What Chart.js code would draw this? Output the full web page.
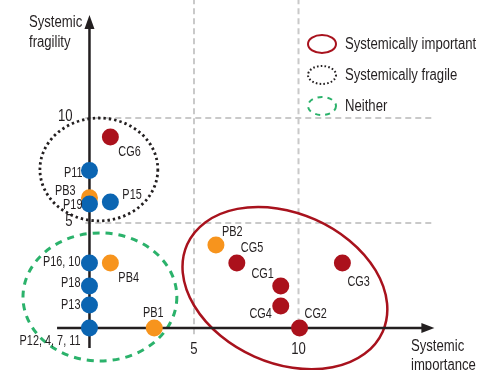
<!DOCTYPE html>
<html lang="en">
<head>
<meta charset="UTF-8">
<title>Systemic importance vs fragility</title>
<script src="https://cdn.jsdelivr.net/npm/chart.js"></script>
<style>
    body { margin: 0; background: #fff; }
    canvas { display: block; }
</style>
</head>
<body>
<canvas id="chart" width="481" height="370"></canvas>
<script>
    // blue points
    const pNames = ['P11', 'P19', 'P15', 'P16, 10', 'P18', 'P13', 'P12, 4, 7, 11'];
    const pImportance = [0, 0, 1.0, 0, 0, 0, 0];
    const pFragility = [7.5, 5.9, 6.0, 3.1, 2.0, 1.1, 0];

    // orange points
    const pbNames = ['PB3', 'PB4', 'PB1', 'PB2'];
    const pbImportance = [0, 1.0, 3.1, 6.05];
    const pbFragility = [6.2, 3.1, 0, 3.95];

    // red points
    const cgNames = ['CG6', 'CG5', 'CG1', 'CG4', 'CG2', 'CG3'];
    const cgImportance = [1.0, 7.05, 9.15, 9.15, 10.05, 12.1];
    const cgFragility = [9.1, 3.1, 2.0, 1.05, 0, 3.1];

    const gridX = [5, 10];
    const gridY = [5, 10];
    const xTickLabels = ['5', '10'];
    const yTickLabels = ['5', '10'];

    const legendLabels = ['Systemically important', 'Systemically fragile', 'Neither'];

    // cx, cy, rx, ry in data units, angle in degrees
    const groupEllipses = [
        { cx: 9.35, cy: 1.9, rx: 5.12, ry: 3.57, angle: 24 },
        { cx: 0.45, cy: 7.55, rx: 2.82, ry: 2.45, angle: 0 },
        { cx: 0.5, cy: 1.48, rx: 3.68, ry: 3.05, angle: 0 }
    ];

    const FONT = "'Liberation Sans', Arial, sans-serif";
    const INK = '#231f20';
    const styles = [
        { color: '#a8121d', width: 2.5, dash: [] },
        { color: '#231f20', width: 2.8, dash: [2.4, 3] },
        { color: '#2bb26b', width: 3, dash: [7, 6] }
    ];

    // label placement, px from the point
    const labelPos = {
        'P11': [-7, 2, 'right'], 'P19': [-7, 1, 'right'], 'P15': [12, -7, 'left'],
        'P16, 10': [-9, -1, 'right'], 'P18': [-9, -3, 'right'], 'P13': [-9, 0, 'right'],
        'P12, 4, 7, 11': [-9, 13, 'right'],
        'PB3': [-14, -7, 'right'], 'PB4': [8, 15, 'left'], 'PB1': [-1, -15, 'center'],
        'PB2': [6, -13, 'left'],
        'CG6': [8, 15, 'left'], 'CG5': [4, -15, 'left'], 'CG1': [-7, -12, 'right'],
        'CG4': [-9, 8, 'right'], 'CG2': [5, -14, 'left'], 'CG3': [5, 19, 'left']
    };

    function toPoints(xs, ys) {
        return xs.map((x, i) => ({ x: x, y: ys[i] }));
    }

    function ellipsePath(ctx, x, y, rx, ry, rot) {
        ctx.beginPath();
        ctx.ellipse(x, y, rx, ry, rot, 0, Math.PI * 2);
    }

    // condensed text: squeeze a regular face horizontally
    function text(ctx, str, x, y, align, size, squeeze) {
        ctx.save();
        ctx.font = size + 'px ' + FONT;
        ctx.textAlign = align;
        ctx.textBaseline = 'middle';
        ctx.translate(x, y);
        ctx.scale(squeeze || 0.82, 1);
        ctx.fillText(str, 0, 0);
        ctx.restore();
    }

    const decor = {
        id: 'decor',
        beforeDatasetsDraw(chart) {
            const ctx = chart.ctx;
            const xs = chart.scales.x, ys = chart.scales.y;
            ctx.save();

            // dashed grid
            ctx.strokeStyle = '#c9c9c9';
            ctx.lineWidth = 2;
            ctx.setLineDash([6, 4]);
            gridX.forEach(v => {
                ctx.beginPath();
                ctx.moveTo(xs.getPixelForValue(v), ys.getPixelForValue(15.7));
                ctx.lineTo(xs.getPixelForValue(v), ys.getPixelForValue(-0.4));
                ctx.stroke();
            });
            gridY.forEach(v => {
                ctx.beginPath();
                ctx.moveTo(xs.getPixelForValue(-0.2), ys.getPixelForValue(v));
                ctx.lineTo(xs.getPixelForValue(16.4), ys.getPixelForValue(v));
                ctx.stroke();
            });

            // group ellipses
            groupEllipses.forEach((e, i) => {
                const cx = xs.getPixelForValue(e.cx), cy = ys.getPixelForValue(e.cy);
                const rx = Math.abs(xs.getPixelForValue(e.cx + e.rx) - cx);
                const ry = Math.abs(ys.getPixelForValue(e.cy + e.ry) - cy);
                ctx.strokeStyle = styles[i].color;
                ctx.lineWidth = styles[i].width;
                ctx.setLineDash(styles[i].dash);
                ellipsePath(ctx, cx, cy, rx, ry, e.angle * Math.PI / 180);
                ctx.stroke();
            });

            // axes with arrows
            ctx.setLineDash([]);
            ctx.strokeStyle = INK;
            ctx.fillStyle = INK;
            ctx.lineWidth = 2.5;
            const x0 = xs.getPixelForValue(0), y0 = ys.getPixelForValue(0);
            const xEnd = xs.getPixelForValue(16.5), yEnd = ys.getPixelForValue(14.9);
            ctx.beginPath();
            ctx.moveTo(xs.getPixelForValue(-1.55), y0);
            ctx.lineTo(xEnd - 8, y0);
            ctx.moveTo(x0, ys.getPixelForValue(-0.95));
            ctx.lineTo(x0, yEnd + 8);
            ctx.stroke();
            ctx.beginPath();
            ctx.moveTo(xEnd, y0);
            ctx.lineTo(xEnd - 13, y0 - 5);
            ctx.lineTo(xEnd - 13, y0 + 5);
            ctx.closePath();
            ctx.moveTo(x0, yEnd);
            ctx.lineTo(x0 - 5, yEnd + 14);
            ctx.lineTo(x0 + 5, yEnd + 14);
            ctx.closePath();
            ctx.fill();

            // tick labels
            gridX.forEach((v, i) => {
                text(ctx, xTickLabels[i], xs.getPixelForValue(v), y0 + 22, 'center', 16);
            });
            gridY.forEach((v, i) => {
                text(ctx, yTickLabels[i], x0 - 17, ys.getPixelForValue(v) - 1, 'right', 16);
            });

            // axis titles
            text(ctx, 'Systemic', 29, 23, 'left', 16);
            text(ctx, 'fragility', 29, 43, 'left', 16);
            text(ctx, 'Systemic', 411, 347, 'left', 16);
            text(ctx, 'importance', 411, 366, 'left', 16);

            // legend
            legendLabels.forEach((t, i) => {
                const ly = 44 + i * 31;
                ctx.strokeStyle = styles[i].color;
                ctx.lineWidth = 2;
                ctx.setLineDash(i === 1 ? [1.6, 2.2] : (i === 2 ? [5, 5] : []));
                ellipsePath(ctx, 322, ly, 14, 9, 0);
                ctx.stroke();
                text(ctx, t, 345, ly + 1, 'left', 16);
            });
            ctx.restore();
        },
        afterDatasetsDraw(chart) {
            const ctx = chart.ctx;
            ctx.save();
            ctx.fillStyle = INK;
            chart.data.datasets.forEach((ds, di) => {
                chart.getDatasetMeta(di).data.forEach((pt, j) => {
                    const name = ds.names[j];
                    const p = labelPos[name] || [8, 0, 'left'];
                    text(ctx, name, pt.x + p[0], pt.y + p[1], p[2], 14.5, 0.75);
                });
            });
            ctx.restore();
        }
    };

    new Chart(document.getElementById('chart').getContext('2d'), {
        type: 'scatter',
        data: {
            datasets: [
                { names: pNames, data: toPoints(pImportance, pFragility), backgroundColor: '#0b65b2', order: 0 },
                { names: pbNames, data: toPoints(pbImportance, pbFragility), backgroundColor: '#f7941d', order: 1 },
                { names: cgNames, data: toPoints(cgImportance, cgFragility), backgroundColor: '#ab111c', order: 2 }
            ]
        },
        options: {
            responsive: false,
            animation: false,
            events: [],
            layout: { padding: 0, autoPadding: false },
            elements: { point: { radius: 8.5, borderWidth: 0, hoverRadius: 8.5 } },
            clip: false,
            plugins: { legend: { display: false }, tooltip: { enabled: false } },
            scales: {
                x: { type: 'linear', min: -4.28, max: 18.73, display: false },
                y: { type: 'linear', min: -2.0, max: 15.62, display: false }
            }
        },
        plugins: [decor]
    });
</script>
</body>
</html>
